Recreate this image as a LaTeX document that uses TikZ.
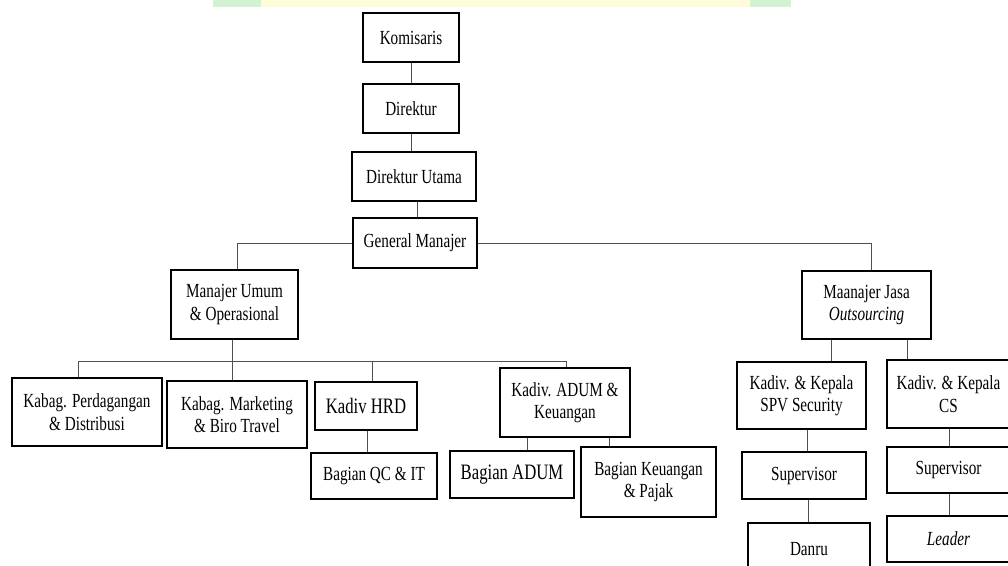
\documentclass[tikz,border=0pt]{standalone}
\usepackage{fontspec}
\setmainfont[FakeStretch=0.76]{Liberation Serif}
\newcommand{\fsn}{\fontsize{20}{22.5}\selectfont}
\newcommand{\fsb}{\fontsize{22}{25}\selectfont}
\definecolor{wmyellow}{HTML}{FFFCD9}
\definecolor{wmgreen}{HTML}{D2F3D2}
\definecolor{conn}{HTML}{505050}
\tikzset{
  bx/.style={draw, line width=1.8pt, inner sep=0pt, align=center, font=\fsn},
  bxb/.style={bx, font=\fsb},
  ln/.style={draw=conn, line width=1pt}
}
\begin{document}
\begin{tikzpicture}[x=1pt,y=-1pt]
\clip (0,0) rectangle (1008,565);
\fill[white] (0,0) rectangle (1008,565);
% watermark band
\fill[wmyellow] (261,0) rectangle (750,7);
\fill[wmgreen] (213,0) rectangle (261,7);
\fill[wmgreen] (750,0) rectangle (791,7);
% boxes
\node[bx, minimum width=96pt, minimum height=49pt] (kom) at (411,37.5) {Komisaris};
\node[bx, minimum width=96pt, minimum height=49pt] (dir) at (411,108.5) {Direktur};
\node[bx, minimum width=124pt, minimum height=49pt] (du) at (414,176.5) {Direktur Utama};
\node[bx, minimum width=124pt, minimum height=50pt] (gm) at (415,243) {General Manajer};
\node[bx, minimum width=127pt, minimum height=69pt] (mu) at (234.5,304.5) {Manajer Umum\\\& Operasional};
\node[bx, minimum width=129pt, minimum height=68pt] (mj) at (866.5,305) {Maanajer Jasa\\\textit{Outsourcing}};
\node[bx, minimum width=150pt, minimum height=68pt] (pd) at (87,412) {Kabag. Perdagangan\\\& Distribusi};
\node[bx, minimum width=140pt, minimum height=67pt] (mk) at (237,414.5) {Kabag. Marketing\\\& Biro Travel};
\node[bxb, minimum width=102pt, minimum height=48pt] (hrd) at (366,406) {Kadiv HRD};
\node[bx, minimum width=130pt, minimum height=69pt] (adum) at (565,402.5) {Kadiv. ADUM \&\\Keuangan};
\node[bx, minimum width=126pt, minimum height=46pt] (qc) at (374,476) {Bagian QC \& IT};
\node[bxb, minimum width=124pt, minimum height=47pt] (badum) at (512,474.5) {Bagian ADUM};
\node[bx, minimum width=135pt, minimum height=70pt] (bk) at (648.5,482) {Bagian Keuangan\\\& Pajak};
\node[bx, minimum width=129pt, minimum height=67pt] (sec) at (801.5,395.5) {Kadiv. \& Kepala\\SPV Security};
\node[bx, minimum width=123pt, minimum height=68pt] (cs) at (948.5,394) {Kadiv. \& Kepala\\CS};
\node[bx, minimum width=124pt, minimum height=47pt] (supa) at (804,475.5) {Supervisor};
\node[bx, minimum width=123pt, minimum height=46pt] (supb) at (948.5,470) {Supervisor};
\node[bx, minimum width=122pt, minimum height=52pt] (danru) at (809,549) {Danru};
\node[bx, minimum width=123pt, minimum height=46pt] (leader) at (948.5,539) {\textit{Leader}};
% connector helpers
\coordinate (jl) at (78,361);
\coordinate (jr) at (566,361);
% connectors
\draw[ln] (kom) -- (dir);
\draw[ln] (dir) -- (du.north -| dir);
\draw[ln] ([xshift=3pt]du.south) -- ([xshift=2pt]gm.north);
\draw[ln] (gm.west) -| ([xshift=2.5pt]mu.north);
\draw[ln] (gm.east) -| ([xshift=4.5pt]mj.north);
\draw[ln] ([xshift=-2.5pt]mu.south) -- ([xshift=-5pt]mk.north);
\draw[ln] (jl) -- (jr);
\draw[ln] (jl) -- (jl |- pd.north);
\draw[ln] (jr) -- (jr |- adum.north);
\draw[ln] (372,361) -- (hrd.north -| 372,0);
\draw[ln] (hrd.south -| 367,0) -- (qc.north -| 367,0);
\draw[ln] (adum.south -| 527,0) -- (badum.north -| 527,0);
\draw[ln] (adum.south -| 609,0) -- (bk.north -| 609,0);
\draw[ln] (mj.south -| 831,0) -- (sec.north -| 831,0);
\draw[ln] (mj.south -| 907,0) -- (cs.north -| 907,0);
\draw[ln] (sec.south -| 807,0) -- (supa.north -| 807,0);
\draw[ln] (supa.south -| 808,0) -- (danru.north -| 808,0);
\draw[ln] (cs.south -| 949,0) -- (supb.north -| 949,0);
\draw[ln] (supb.south -| 949,0) -- (leader.north -| 949,0);
\end{tikzpicture}
\end{document}
